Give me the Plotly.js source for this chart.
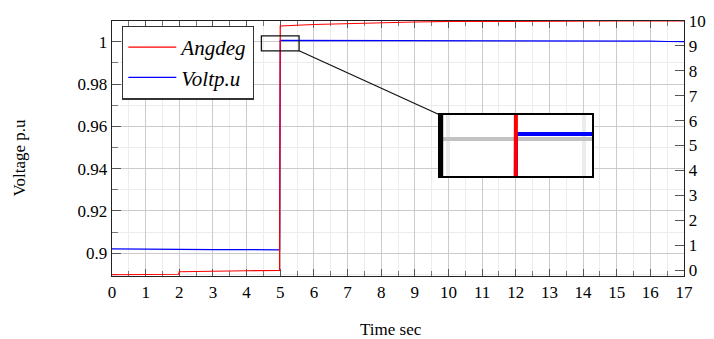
<!DOCTYPE html>
<html><head><meta charset="utf-8">
<script src="https://cdn.plot.ly/plotly-3.0.1.min.js"></script>
<style>html,body{margin:0;padding:0;background:#fff;}#chart{width:714px;height:339px;}</style>
</head><body><div id="chart"></div>
<script>
// ---- data ----
const angTime = [0, 1.98, 2.0, 3.98, 4.0, 4.98, 5.0, 6, 7, 8, 9, 10, 11, 12, 13, 14, 15, 16, 17];
const angDeg  = [-0.19, -0.17, -0.07, -0.06, -0.03, -0.02, 9.80, 9.86, 9.90, 9.93, 9.96, 9.98, 9.99, 10.0, 10.0, 10.0, 10.0, 10.0, 10.0];
const voltTime = [0, 0.5, 1, 1.5, 2, 2.5, 3, 3.5, 4, 4.5, 4.98, 5.0, 5.5, 6, 6.5, 7, 7.5, 8, 8.5, 9, 9.5, 10, 10.5, 11, 11.5, 12, 12.5, 13, 13.5, 14, 14.5, 15, 15.5, 16, 16.5, 17];
const voltPu   = [0.9020, 0.9019, 0.9019, 0.9018, 0.9018, 0.9017, 0.9017, 0.9017, 0.9017, 0.9017, 0.9016, 1.0006, 1.0006, 1.0005, 1.0005, 1.0005, 1.0004, 1.0004, 1.0005, 1.0005, 1.0004, 1.0004, 1.0005, 1.0005, 1.0004, 1.0004, 1.0004, 1.0004, 1.0005, 1.0004, 1.0004, 1.0004, 1.0004, 1.0003, 1.0001, 1.0000];
const seriesNames = ['Angdeg', 'Voltp.u'];
const xTickVals = [0,1,2,3,4,5,6,7,8,9,10,11,12,13,14,15,16,17];
const xTickText = ['0','1','2','3','4','5','6','7','8','9','10','11','12','13','14','15','16','17'];
const yTickVals = [0.9, 0.92, 0.94, 0.96, 0.98, 1.0];
const yTickText = ['0.9', '0.92', '0.94', '0.96', '0.98', '1'];
const y2TickVals = [0,1,2,3,4,5,6,7,8,9,10];
const y2TickText = ['0','1','2','3','4','5','6','7','8','9','10'];
const xTitle = 'Time sec';
const yTitle = 'Voltage p.u';

// ---- view settings ----
const xRange = [0, 17];
const yRange = [0.8892, 1.0098];
const y2Range = [-0.24, 10.0];
const spyX = [4.44, 5.56];
const spyY = [0.9957, 1.0028];
const spyY2 = [8.80, 9.40];
const insetDomX = [0.5734, 0.8392];
const insetDomY = [0.392, 0.6314];

const FONT = 'Liberation Serif';
const gridMajor = '#cbcbcb', gridMinor = '#ececec';

const traces = [
  {x: angTime, y: angDeg, name: seriesNames[0], type: 'scatter', mode: 'lines', xaxis: 'x', yaxis: 'y2',
   line: {color: '#ff0000', width: 1.2}},
  {x: voltTime, y: voltPu, name: seriesNames[1], type: 'scatter', mode: 'lines', xaxis: 'x', yaxis: 'y',
   line: {color: '#0000ff', width: 1.2}},
  {x: voltTime, y: voltPu, showlegend: false, type: 'scatter', mode: 'lines', xaxis: 'x2', yaxis: 'y3',
   line: {color: '#0000ff', width: 4}},
  {x: angTime, y: angDeg, showlegend: false, type: 'scatter', mode: 'lines', xaxis: 'x2', yaxis: 'y4',
   line: {color: '#ff0000', width: 4}}
];

const spyCornerX = (spyX[1] - xRange[0]) / (xRange[1] - xRange[0]);
const spyCornerY = (spyY[0] - yRange[0]) / (yRange[1] - yRange[0]);

const layout = {
  width: 714, height: 339,
  margin: {l: 112, r: 30, t: 21, b: 63},
  paper_bgcolor: '#fff', plot_bgcolor: '#fff',
  font: {family: FONT, size: 17, color: '#000'},
  showlegend: true,
  legend: {x: 0.0175, y: 0.9816, xanchor: 'left', yanchor: 'top', bgcolor: '#fff',
           bordercolor: '#333', borderwidth: 1.3, itemwidth: 48,
           entrywidth: 130, entrywidthmode: 'pixels',
           font: {family: FONT, size: 21, style: 'italic', color: '#000'}},
  xaxis: {range: xRange, anchor: 'y', tickmode: 'array', tickvals: xTickVals, ticktext: xTickText,
          ticks: 'inside', ticklen: 7, tickcolor: '#555', tickwidth: 1, mirror: 'ticks',
          showline: true, linecolor: '#222', linewidth: 1.3, layer: 'below traces',
          showgrid: true, gridcolor: gridMajor, gridwidth: 1, zeroline: false,
          minor: {dtick: 0.5, tick0: 0, ticks: 'inside', ticklen: 5, tickcolor: '#777', showgrid: true, gridcolor: gridMinor},
          tickfont: {family: FONT, size: 17, color: '#000'}},
  yaxis: {range: yRange, anchor: 'x', tickmode: 'array', tickvals: yTickVals, ticktext: yTickText,
          ticks: 'inside', ticklen: 9, tickcolor: '#555', showline: true, linecolor: '#222', linewidth: 1.3,
          layer: 'below traces', showgrid: true, gridcolor: gridMajor, zeroline: false,
          minor: {dtick: 0.01, tick0: 0.9, ticks: 'inside', ticklen: 6, tickcolor: '#777', showgrid: true, gridcolor: gridMinor},
          tickfont: {family: FONT, size: 17, color: '#000'}},
  yaxis2: {range: y2Range, overlaying: 'y', side: 'right', anchor: 'x', tickmode: 'array',
           tickvals: y2TickVals, ticktext: y2TickText, ticks: 'inside', ticklen: 9, tickcolor: '#555',
           showline: true, linecolor: '#222', linewidth: 1.3, layer: 'below traces',
           showgrid: false, zeroline: false, tickfont: {family: FONT, size: 17, color: '#000'}},
  xaxis2: {domain: insetDomX, anchor: 'y3', range: spyX, tickmode: 'linear', tick0: 0, dtick: 1,
           showticklabels: false, ticks: '', showline: true, mirror: true, linecolor: '#000', linewidth: 2,
           showgrid: true, gridcolor: gridMajor, gridwidth: 4, zeroline: false,
           minor: {dtick: 0.5, tick0: 0, showgrid: true, gridcolor: gridMinor, gridwidth: 4}},
  yaxis3: {domain: insetDomY, anchor: 'x2', range: spyY, tickmode: 'linear', tick0: 0.9, dtick: 0.02,
           showticklabels: false, ticks: '', showline: true, mirror: true, linecolor: '#000', linewidth: 2,
           showgrid: true, gridcolor: '#c2c2c2', gridwidth: 4, zeroline: false},
  yaxis4: {overlaying: 'y3', anchor: 'x2', side: 'right', range: spyY2, showticklabels: false,
           ticks: '', showgrid: false, zeroline: false, showline: false},
  annotations: [
    {text: xTitle, xref: 'paper', yref: 'paper', x: 0.5, y: 0, xanchor: 'center', yanchor: 'middle',
     xshift: -7, yshift: -53, showarrow: false, font: {family: FONT, size: 17, color: '#000'}},
    {text: yTitle, xref: 'paper', yref: 'paper', x: 0, y: 0.5, xanchor: 'center', yanchor: 'middle',
     textangle: -90, xshift: -93, yshift: -9, showarrow: false, font: {family: FONT, size: 17, color: '#000'}}
  ],
  shapes: [
    {type: 'rect', xref: 'x', yref: 'y', x0: spyX[0], x1: spyX[1], y0: spyY[0], y1: spyY[1],
     line: {color: '#111', width: 1.3}, layer: 'above'},
    {type: 'line', xref: 'paper', yref: 'paper', x0: spyCornerX, y0: spyCornerY, x1: insetDomX[0], y1: insetDomY[1],
     line: {color: '#111', width: 1.2}, layer: 'above'},
    {type: 'line', xref: 'x2 domain', yref: 'y3 domain', x0: 0.008, x1: 0.008, y0: 0, y1: 1,
     line: {color: '#000', width: 4}, layer: 'above'}
  ]
};

Plotly.newPlot('chart', traces, layout, {staticPlot: true, displayModeBar: false});
</script>
</body></html>
